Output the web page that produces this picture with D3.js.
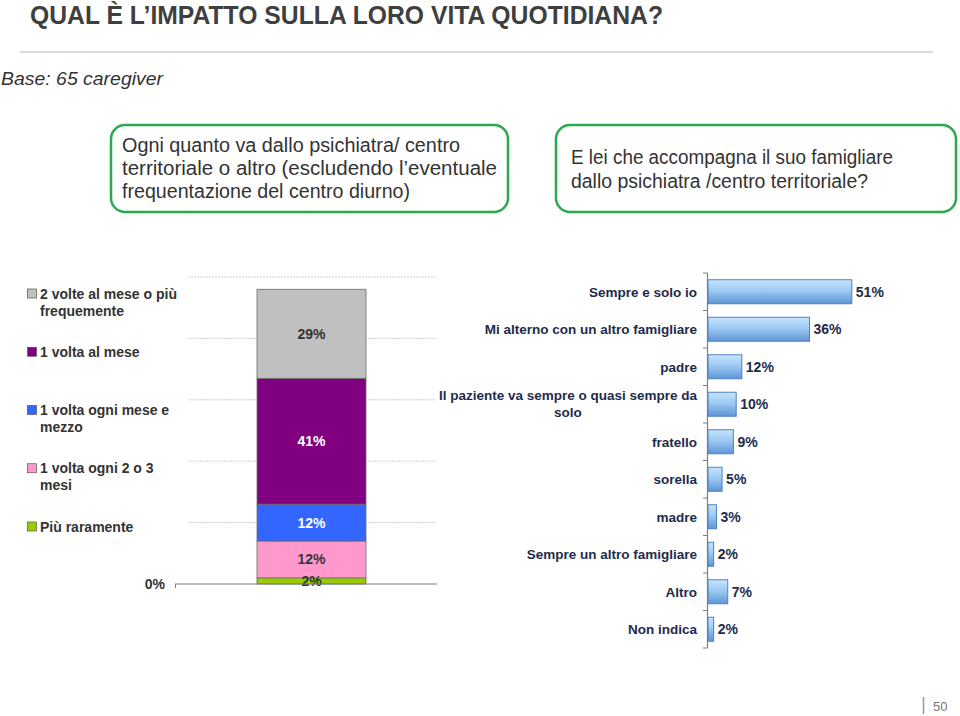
<!DOCTYPE html>
<html>
<head>
<meta charset="utf-8">
<script src="https://cdn.jsdelivr.net/npm/d3@7/dist/d3.min.js"></script>
<style>
  html, body { margin: 0; padding: 0; background: #fff; }
  svg { display: block; }
  text { font-family: "Liberation Sans", Arial, sans-serif; }
</style>
</head>
<body>
<svg id="chart" width="960" height="716"></svg>
<script>
// ---------- DATA ----------
const titleText = "QUAL È L\u2019IMPATTO SULLA LORO VITA QUOTIDIANA?";
const baseText = "Base: 65 caregiver";
const question1Lines = [
  "Ogni quanto va dallo psichiatra/ centro",
  "territoriale o altro (escludendo l\u2019eventuale",
  "frequentazione del centro diurno)"
];
const question2Lines = [
  "E lei che accompagna il suo famigliare",
  "dallo psichiatra /centro territoriale?"
];

// Left chart: frequency (legend order, top to bottom)
const freqCategories = [
  "2 volte al mese o più frequemente",
  "1 volta al mese",
  "1 volta ogni mese e mezzo",
  "1 volta ogni 2 o 3 mesi",
  "Più raramente"
];
const freqLegendLines = [
  ["2 volte al mese o più", "frequemente"],
  ["1 volta al mese"],
  ["1 volta ogni mese e", "mezzo"],
  ["1 volta ogni 2 o 3", "mesi"],
  ["Più raramente"]
];
const freqValues = [29, 41, 12, 12, 2];
const freqColors = ["#c0c0c0", "#800080", "#3366ff", "#ff99cc", "#99cc00"];
const freqLabelColors = ["#333333", "#ffffff", "#ffffff", "#3a3340", "#333333"];
const freqAxisTicks = [0, 20, 40, 60, 80, 100];

// Right chart: who accompanies
const whoCategories = [
  "Sempre e solo io",
  "Mi alterno con un altro famigliare",
  "padre",
  "Il paziente va sempre o quasi sempre da solo",
  "fratello",
  "sorella",
  "madre",
  "Sempre un altro famigliare",
  "Altro",
  "Non indica"
];
const whoLabelLines = [
  ["Sempre e solo io"],
  ["Mi alterno con un altro famigliare"],
  ["padre"],
  ["Il paziente va sempre o quasi sempre da", "solo"],
  ["fratello"],
  ["sorella"],
  ["madre"],
  ["Sempre un altro famigliare"],
  ["Altro"],
  ["Non indica"]
];
const whoValues = [51, 36, 12, 10, 9, 5, 3, 2, 7, 2];

const pageNumber = "50";

// ---------- DRAW ----------
const svg = d3.select("#chart");
const defs = svg.append("defs");
const grad = defs.append("linearGradient").attr("id", "barGrad")
  .attr("x1", 0).attr("y1", 0).attr("x2", 0).attr("y2", 1);
grad.append("stop").attr("offset", "0%").attr("stop-color", "#c9e4fc");
grad.append("stop").attr("offset", "45%").attr("stop-color", "#9ccaf3");
grad.append("stop").attr("offset", "100%").attr("stop-color", "#5f94d6");

// Title
svg.append("text")
  .attr("x", 30).attr("y", 24)
  .attr("font-size", 25).attr("font-weight", "bold")
  .attr("fill", "#3f3f3f")
  .attr("textLength", 633).attr("lengthAdjust", "spacingAndGlyphs")
  .text(titleText);

svg.append("line")
  .attr("x1", 20).attr("x2", 933).attr("y1", 52).attr("y2", 52)
  .attr("stroke", "#d9d9d9").attr("stroke-width", 2);

svg.append("text")
  .attr("x", 1).attr("y", 85)
  .attr("font-size", 18).attr("font-style", "italic")
  .attr("fill", "#333")
  .attr("textLength", 162).attr("lengthAdjust", "spacingAndGlyphs")
  .text(baseText);

// Question boxes
function questionBox(x, y, w, h, lines, tx, baselines, lengths) {
  svg.append("rect")
    .attr("x", x).attr("y", y).attr("width", w).attr("height", h)
    .attr("rx", 14).attr("ry", 14)
    .attr("fill", "#fff").attr("stroke", "#2ea84f").attr("stroke-width", 2.5);
  lines.forEach((l, i) => {
    svg.append("text")
      .attr("x", tx).attr("y", baselines[i])
      .attr("font-size", 19.5).attr("fill", "#333")
      .attr("textLength", lengths[i]).attr("lengthAdjust", "spacingAndGlyphs")
      .text(l);
  });
}
questionBox(111, 125, 397, 87, question1Lines, 122, [152, 175, 198], [338, 375, 288]);
questionBox(556, 125, 400, 87, question2Lines, 571, [164, 188], [322, 297]);

// ---------- Left stacked bar ----------
const yL = d3.scaleLinear().domain([0, 100]).range([584, 277]);
const barX = 257, barW = 109;

// gridlines
svg.append("g").selectAll("line")
  .data(freqAxisTicks.filter(d => d > 0))
  .join("line")
  .attr("x1", 188).attr("x2", 437)
  .attr("y1", d => yL(d)).attr("y2", d => yL(d))
  .attr("stroke", "#cfcfcf").attr("stroke-width", 1)
  .attr("stroke-dasharray", "2,1");

// stacked data: bottom to top order is reverse of legend
const stackRow = {};
freqCategories.forEach((c, i) => stackRow[c] = freqValues[i]);
const keysBottomUp = freqCategories.slice().reverse();
const stacked = d3.stack().keys(keysBottomUp)([stackRow]);

const segG = svg.append("g");
stacked.forEach(layer => {
  const idx = freqCategories.indexOf(layer.key);
  const seg = layer[0];
  segG.append("rect")
    .attr("x", barX).attr("width", barW)
    .attr("y", yL(seg[1])).attr("height", yL(seg[0]) - yL(seg[1]))
    .attr("fill", freqColors[idx])
    .attr("stroke", "#6b6b6b").attr("stroke-width", 0.8);
});
stacked.forEach(layer => {
  const idx = freqCategories.indexOf(layer.key);
  const seg = layer[0];
  segG.append("text")
    .attr("x", barX + barW / 2)
    .attr("y", (yL(seg[0]) + yL(seg[1])) / 2 + 5)
    .attr("text-anchor", "middle")
    .attr("font-size", 14).attr("font-weight", "bold")
    .attr("fill", freqLabelColors[idx])
    .text(freqValues[idx] + "%");
});

// baseline axis
svg.append("line")
  .attr("x1", 175).attr("x2", 437).attr("y1", yL(0)).attr("y2", yL(0))
  .attr("stroke", "#7f7f7f").attr("stroke-width", 1.2);
svg.append("line")
  .attr("x1", 175.5).attr("x2", 175.5).attr("y1", yL(0)).attr("y2", yL(0) + 4)
  .attr("stroke", "#7f7f7f");
svg.append("text")
  .attr("x", 165).attr("y", yL(0) + 5)
  .attr("text-anchor", "end")
  .attr("font-size", 14).attr("font-weight", "bold").attr("fill", "#333")
  .text(freqAxisTicks[0] + "%");

// legend
const legY = d3.scalePoint().domain(freqCategories).range([293.5, 526.5]);
const legG = svg.append("g");
freqCategories.forEach((c, i) => {
  const cy = legY(c);
  legG.append("rect")
    .attr("x", 27.5).attr("y", cy - 4.5).attr("width", 9).attr("height", 9)
    .attr("fill", freqColors[i]).attr("stroke", "#555").attr("stroke-width", 0.7);
  freqLegendLines[i].forEach((l, j) => {
    legG.append("text")
      .attr("x", 40).attr("y", cy + 5 + j * 17)
      .attr("font-size", 14).attr("font-weight", "bold").attr("fill", "#333")
      .text(l);
  });
});

// ---------- Right horizontal bars ----------
const xR = d3.scaleLinear().domain([0, 100]).range([708, 990]);
const yR = d3.scaleBand().domain(whoCategories).range([273, 648]).paddingInner(0.36).paddingOuter(0.18);
const bandStep = yR.step();

const rg = svg.append("g");
// axis line + ticks at band boundaries
rg.append("line")
  .attr("x1", 707.5).attr("x2", 707.5).attr("y1", 273).attr("y2", 648)
  .attr("stroke", "#7f7f7f").attr("stroke-width", 1.2);
d3.range(whoCategories.length + 1).forEach(i => {
  const yy = 273 + i * bandStep;
  rg.append("line")
    .attr("x1", 703).attr("x2", 707.5).attr("y1", yy).attr("y2", yy)
    .attr("stroke", "#7f7f7f").attr("stroke-width", 1);
});

whoCategories.forEach((c, i) => {
  rg.append("rect")
    .attr("x", xR(0)).attr("y", yR(c))
    .attr("width", xR(whoValues[i]) - xR(0)).attr("height", yR.bandwidth())
    .attr("fill", "url(#barGrad)")
    .attr("stroke", "#4f82c0").attr("stroke-width", 1);
  const cy = yR(c) + yR.bandwidth() / 2;
  rg.append("text")
    .attr("x", xR(whoValues[i]) + 4).attr("y", cy + 5)
    .attr("font-size", 14).attr("font-weight", "bold").attr("fill", "#1e2b4d")
    .text(whoValues[i] + "%");
  const lines = whoLabelLines[i];
  if (lines.length === 1) {
    rg.append("text")
      .attr("x", 697).attr("y", cy + 5)
      .attr("text-anchor", "end")
      .attr("font-size", 13.5).attr("font-weight", "bold").attr("fill", "#1e2b4d")
      .text(lines[0]);
  } else {
    const t0 = rg.append("text")
      .attr("x", 697).attr("y", cy - 4)
      .attr("text-anchor", "end")
      .attr("font-size", 13.5).attr("font-weight", "bold").attr("fill", "#1e2b4d")
      .text(lines[0]);
    const w0 = t0.node().getComputedTextLength();
    rg.append("text")
      .attr("x", 697 - w0 / 2).attr("y", cy + 13)
      .attr("text-anchor", "middle")
      .attr("font-size", 13.5).attr("font-weight", "bold").attr("fill", "#1e2b4d")
      .text(lines[1]);
  }
});

// Page number
svg.append("line")
  .attr("x1", 923.5).attr("x2", 923.5).attr("y1", 697).attr("y2", 714)
  .attr("stroke", "#999").attr("stroke-width", 1.5);
svg.append("text")
  .attr("x", 933).attr("y", 711)
  .attr("font-size", 13).attr("fill", "#777")
  .text(pageNumber);
</script>
</body>
</html>
